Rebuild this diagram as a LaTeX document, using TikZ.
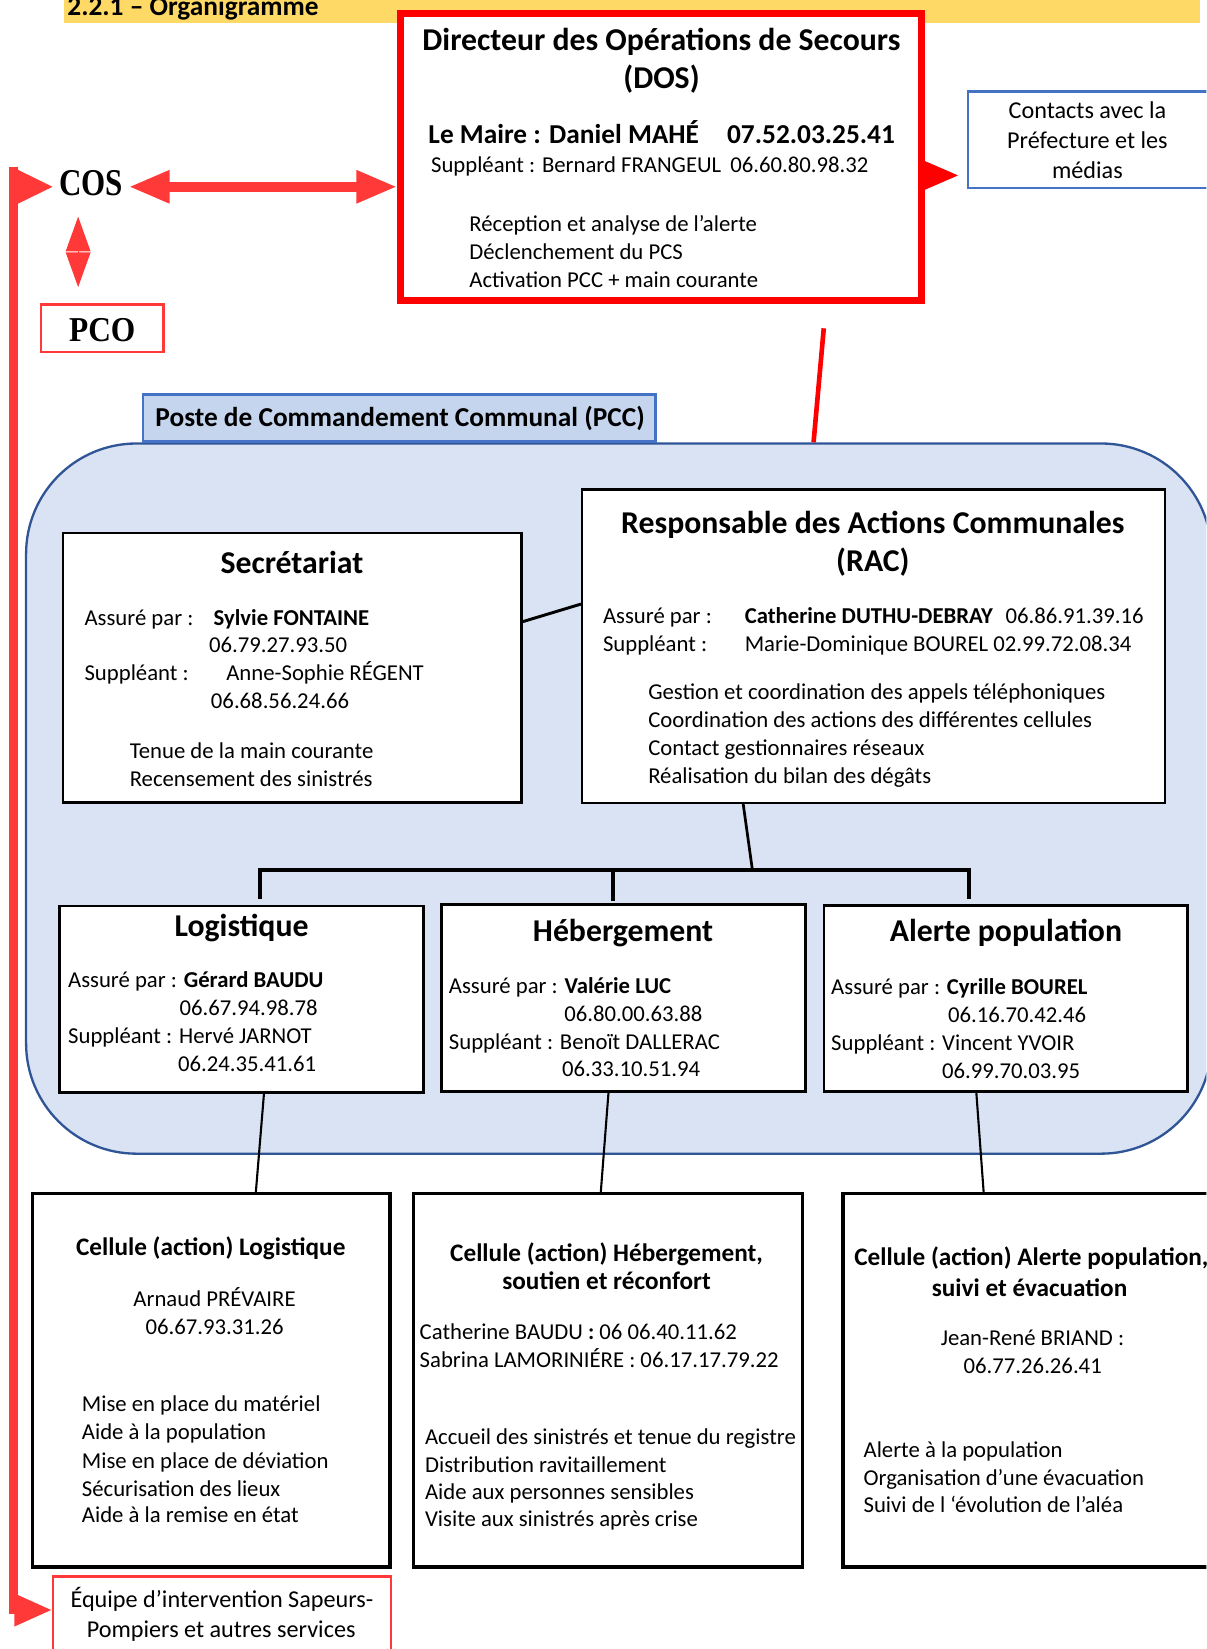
\documentclass[tikz,border=0pt]{standalone}
\usepackage{fontspec}
\setmainfont{Carlito}
\newfontfamily\cosfont{Liberation Serif}
\usetikzlibrary{arrows.meta,fit,calc}
\definecolor{bandyellow}{HTML}{FFD966}
\definecolor{dosred}{HTML}{FF0000}
\definecolor{arrred}{HTML}{FF3838}
\definecolor{blueborder}{HTML}{4472C4}
\definecolor{pcclabel}{HTML}{C5D5EE}
\definecolor{pccfill}{HTML}{DAE3F3}
\definecolor{pccborder}{HTML}{2F5597}
\newcommand\fsz[1]{\fontsize{#1}{#1}\selectfont}
\begin{document}
\begin{tikzpicture}[x=0.5pt,y=-0.5pt,
  txl/.style={anchor=base west,inner sep=0pt,font=\fsz{10.8}},
  txc/.style={anchor=base,inner sep=0pt,font=\fsz{10.8}},
  ttl/.style={anchor=base,inner sep=0pt,font=\fsz{15.1}\bfseries},
  ctl/.style={anchor=base,inner sep=0pt,font=\fsz{12}\bfseries},
  blackbox/.style={draw=black,line width=1.1pt,fill=white,inner sep=0pt},
  cellbox/.style={draw=black,line width=1.7pt,fill=white,inner sep=0pt},
  conn/.style={draw=black,line width=1pt},
  busline/.style={draw=black,line width=1.8pt},
  bigtip/.tip={Triangle[length=19.5pt,width=14.5pt]},
]
\useasboundingbox (0,0) rectangle (1147,1568);
\clip (0,0) rectangle (1147,1568);

% title band
\node (band) [fit={(61,-5)(1141,22)},inner sep=0pt,fill=bandyellow] {};
\node (title) [anchor=base west,inner sep=0pt,font=\fsz{13}\bfseries] at (63.7,14.3) {2.2.1 – Organigramme};

% DOS
\node (dos) [fit={(381,12.5)(876.5,285.5)},inner sep=0pt,draw=dosred,fill=white,line width=3.2pt] {};
\node (dos1) [ttl] at (629,47.6) {Directeur des Opérations de Secours};
\node (dos2) [ttl] at (629,84) {(DOS)};
\node (dos3) [txl,font=\fsz{13}\bfseries] at (407,136) {Le Maire : Daniel MAHÉ};
\node (dos4) [txl,font=\fsz{13}\bfseries] at (691,136) {07.52.03.25.41};
\node (dos5) [txl] at (409.5,164) {Suppléant : Bernard FRANGEUL};
\node (dos6) [txl] at (694,164) {06.60.80.98.32};
\node (dos7) [txl] at (446,220) {Réception et analyse de l’alerte};
\node (dos8) [txl] at (446,246.7) {Déclenchement du PCS};
\node (dos9) [txl] at (446,273) {Activation PCC + main courante};

% Contacts
\node (contacts) [fit={(920.5,87)(1165,178.5)},inner sep=0pt,draw=blueborder,fill=white,line width=1.1pt] {};
\node (con1) [txc,font=\fsz{11.5}] at (1034,112.5) {Contacts avec la};
\node (con2) [txc,font=\fsz{11.5}] at (1034,141) {Préfecture et les};
\node (con3) [txc,font=\fsz{11.5}] at (1034,170) {médias};
\coordinate (dosr) at ($(dos.north east)+(0,157.5)$);
\draw[dosred,line width=0.4pt,-{Triangle[length=16.25pt,width=14pt]},shorten >=4.25pt]
  (dosr) -- (dosr -| contacts.west);

% COS / PCO
\node (cos) [inner xsep=2.5pt,inner ysep=1pt,font=\cosfont\bfseries\fsz{18}] at (86.5,174.4) {\scalebox{0.82}[1]{COS}};
\node (pco) [fit={(39,289.5)(155.5,335)},inner sep=0pt,draw=arrred,fill=white,line width=1.1pt] {};
\node (pcot) [anchor=base,inner sep=0pt,font=\cosfont\bfseries\fsz{16.6}] at (97.2,325) {\scalebox{0.9}[1]{PCO}};
\draw[arrred,line width=4.75pt,bigtip-bigtip] ($(cos.east)+(0,3.2)$) -- ($(cos.east -| dos.west)+(0,3.2)$);
\coordinate (dtop) at (74.3,206);
\coordinate (dbot) at (74.3,273);
\draw[arrred,line width=0.6pt,{Triangle[length=16.5pt,width=11.7pt]}-{Triangle[length=16.5pt,width=11.7pt]}] (dtop) -- (dbot);

% PCC area
\node (pccarea) [fit={(24.8,421.7)(1152,1097)},inner sep=0pt,draw=pccborder,fill=pccfill,line width=1.1pt,rounded corners=52.5pt] {};
\node (pcclab) [fit={(136,375)(623.5,420)},inner sep=0pt,draw=blueborder,fill=pcclabel,line width=1.4pt] {};
\node (pcct) [txl,font=\fsz{13}\bfseries] at (147.4,405.8) {Poste de Commandement Communal (PCC)};
\draw[dosred,line width=2.2pt] ($(dos.south west)+(405.5,23.5)$) -- ($(pccarea.north west)+(749.9,0)$);

% left red elbow
\coordinate (lvtop) at (13,158.5);
\node (eqp) [fit={(50.7,1499)(372,1580)},inner sep=0pt,draw=arrred,fill=white,line width=1.1pt] {};
\node (eqp1) [txc,font=\fsz{11.5}] at (211,1528.4) {Équipe d’intervention Sapeurs-};
\node (eqp2) [txc,font=\fsz{11.5}] at (210.3,1557.3) {Pompiers et autres services};
\coordinate (eqpin) at ($(eqp.north west)+(0,33)$);
\draw[arrred,line width=4pt,-{Triangle[length=18pt,width=14.5pt]}] (lvtop) -- (lvtop |- eqpin) -- (eqpin);
\coordinate (cosin) at ($(cos.west)+(0,3.2)$);
\draw[arrred,line width=4pt,-{Triangle[length=17.5pt,width=15.5pt]}] (lvtop |- cosin) -- (cosin);

% Secretariat
\node (sec) [blackbox,fit={(60,507)(496,763)}] {};
\node (sec0) [ttl] at (277.6,545.3) {Secrétariat};
\node (sec1) [txl] at (80,594.4) {Assuré par :};
\node (sec2) [txl] at (202.8,594.4) {\textbf{Sylvie FONTAINE}};
\node (sec3) [txl] at (198.4,620.8) {06.79.27.93.50};
\node (sec4) [txl] at (80,646.7) {Suppléant :};
\node (sec5) [txl] at (214.8,646.7) {Anne-Sophie RÉGENT};
\node (sec6) [txl] at (200.2,673.7) {06.68.56.24.66};
\node (sec7) [txl] at (123,721.3) {Tenue de la main courante};
\node (sec8) [txl] at (123,747.6) {Recensement des sinistrés};

% RAC
\node (rac) [blackbox,fit={(553.5,465.5)(1107.5,763.5)}] {};
\node (rac0) [ttl] at (830,507.3) {Responsable des Actions Communales};
\node (rac00) [ttl] at (830,543.7) {(RAC)};
\node (rac1) [txl] at (573,592.9) {Assuré par :};
\node (rac2) [txl] at (707.8,592.9) {\textbf{Catherine DUTHU-DEBRAY}};
\node (rac3) [txl] at (955.8,592.9) {06.86.91.39.16};
\node (rac4) [txl] at (573,619.8) {Suppléant :};
\node (rac5) [txl] at (707.8,619.8) {Marie-Dominique BOUREL 02.99.72.08.34};
\node (rac6) [txl] at (616,665.2) {Gestion et coordination des appels téléphoniques};
\node (rac7) [txl] at (616,691.8) {Coordination des actions des différentes cellules};
\node (rac8) [txl] at (616,718.1) {Contact gestionnaires réseaux};
\node (rac9) [txl] at (616,745.1) {Réalisation du bilan des dégâts};
\draw[conn,line width=1.4pt] ($(sec.north east)+(0,85.2)$) -- ($(rac.north west)+(0,110)$);

% level 2 boxes
\node (log) [blackbox,line width=1.4pt,fit={(57,861.5)(402.5,1038.5)}] {};
\node (heb) [blackbox,line width=1.4pt,fit={(420,860.5)(765.5,1037.5)}] {};
\node (alp) [blackbox,line width=1.4pt,fit={(783.5,861)(1129.5,1038)}] {};

\node (log0) [ttl] at (229.7,890.8) {Logistique};
\node (log1) [txl] at (64.4,939.4) {Assuré par : \textbf{Gérard BAUDU}};
\node (log2) [txl] at (170.4,966) {06.67.94.98.78};
\node (log3) [txl] at (64.4,992.3) {Suppléant : Hervé JARNOT};
\node (log4) [txl] at (169,1019.3) {06.24.35.41.61};

\node (heb0) [ttl] at (592.5,895.6) {Hébergement};
\node (heb1) [txl] at (426.5,944.7) {Assuré par : \textbf{Valérie LUC}};
\node (heb2) [txl] at (536.2,971.7) {06.80.00.63.88};
\node (heb3) [txl] at (426.5,998) {Suppléant : Benoït DALLERAC};
\node (heb4) [txl] at (534,1024) {06.33.10.51.94};

\node (alp0) [ttl] at (956.5,895.6) {Alerte population};
\node (alp1) [txl] at (790,945.4) {Assuré par : \textbf{Cyrille BOUREL}};
\node (alp2) [txl] at (901.2,972.6) {06.16.70.42.46};
\node (alp3) [txl] at (790,999.3) {Suppléant : Vincent YVOIR};
\node (alp4) [txl] at (895.4,1025.6) {06.99.70.03.95};

% bus
\coordinate (bl) at (247.3,827);
\coordinate (br) at (921.5,827);
\coordinate (bm) at (583,829);
\coordinate (bj) at (715.4,827);
\draw[conn,line width=1.3pt] ($(rac.south west)+(154.3,0)$) -- (bj);
\draw[busline,shorten <=2.4pt,shorten >=2.6pt] (bl |- log.north) -- (bl) -- (br) -- (br |- alp.north);
\draw[busline,shorten >=1pt] (bm) -- (bm |- heb.north);

% cellules
\node (logc) [cellbox,fit={(31,1135)(371,1490)}] {};
\node (hebc) [cellbox,fit={(393,1135)(763,1490)}] {};
\node (alpc) [cellbox,fit={(801.5,1135)(1170,1490)}] {};
\draw[conn] ($(log.south west)+(195.4,0)$) -- ($(logc.north west)+(214,0)$);
\draw[conn] ($(heb.south west)+(160,0)$) -- ($(hebc.north west)+(180,0)$);
\draw[conn] ($(alp.south west)+(146.3,0)$) -- ($(alpc.north west)+(135.5,0)$);

\node (logc0) [ctl] at (200.4,1194) {Cellule (action) Logistique};
\node (logc1) [txc] at (204,1242) {Arnaud PRÉVAIRE};
\node (logc2) [txc] at (204,1268.6) {06.67.93.31.26};
\node (logc3) [txl] at (77.5,1342.6) {Mise en place du matériel};
\node (logc4) [txl] at (77.5,1369.2) {Aide à la population};
\node (logc5) [txl] at (77.5,1395.9) {Mise en place de déviation};
\node (logc6) [txl] at (77.5,1422.5) {Sécurisation des lieux};
\node (logc7) [txl] at (77.5,1448.1) {Aide à la remise en état};

\node (hebc0) [ctl] at (576.8,1199.4) {Cellule (action) Hébergement,};
\node (hebc00) [ctl] at (576.8,1226.5) {soutien et réconfort};
\node (hebc1) [txl] at (398.7,1273.6) {Catherine BAUDU \textbf{:} 06 06.40.11.62};
\node (hebc2) [txl] at (398.7,1300.3) {Sabrina LAMORINIÉRE : 06.17.17.79.22};
\node (hebc3) [txl] at (403.8,1373.5) {Accueil des sinistrés et tenue du registre};
\node (hebc4) [txl] at (403.8,1399.9) {Distribution ravitaillement};
\node (hebc5) [txl] at (403.8,1425.8) {Aide aux personnes sensibles};
\node (hebc6) [txl] at (403.8,1451.8) {Visite aux sinistrés après crise};

\node (alpc0) [ctl,anchor=base west] at (812,1203.4) {Cellule (action) Alerte population,};
\node (alpc00) [ctl] at (979,1232.7) {suivi et évacuation};
\node (alpc1) [txc] at (981.7,1279.3) {Jean-René BRIAND :};
\node (alpc2) [txc] at (982,1305.9) {06.77.26.26.41};
\node (alpc3) [txl] at (820.8,1385.9) {Alerte à la population};
\node (alpc4) [txl] at (820.8,1412.5) {Organisation d’une évacuation};
\node (alpc5) [txl] at (820.8,1438.5) {Suivi de l ‘évolution de l’aléa};
\end{tikzpicture}
\end{document}
